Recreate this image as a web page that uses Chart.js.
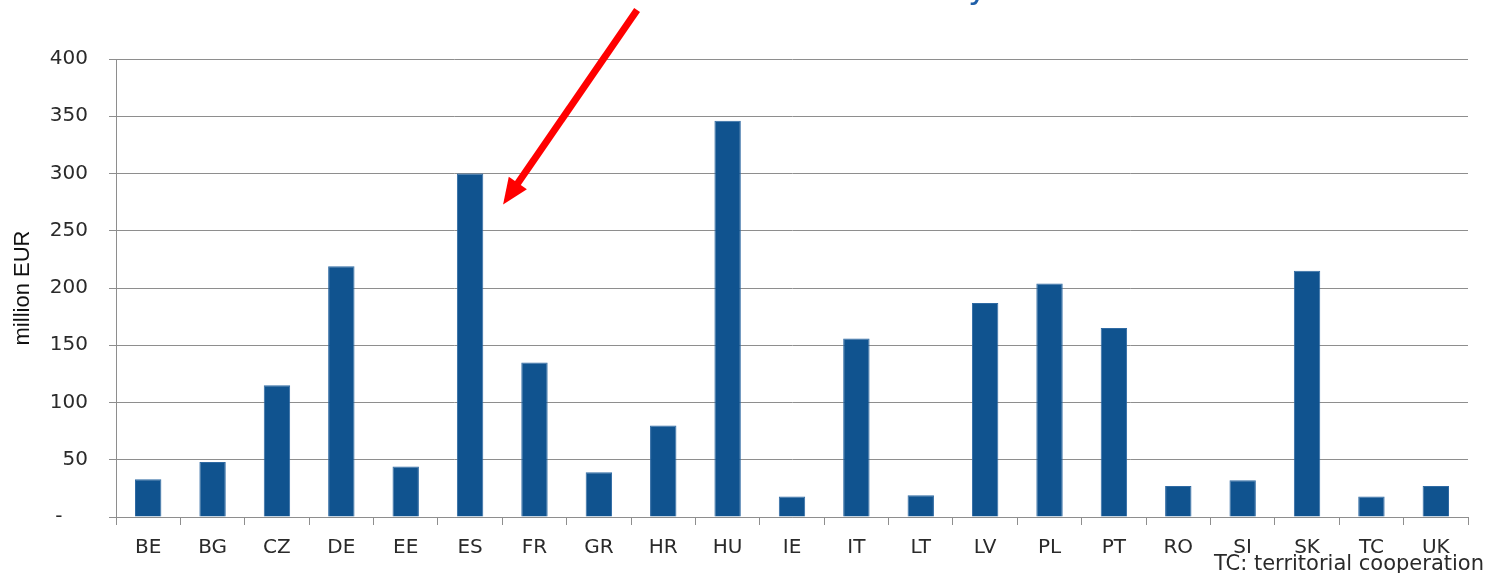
<!DOCTYPE html>
<html>
<head>
<meta charset="utf-8">
<script src="https://cdn.jsdelivr.net/npm/chart.js@4"></script>
<style>
  html, body { margin: 0; padding: 0; background: #fff; }
  #wrap { width: 1491px; height: 573px; position: relative; }
</style>
</head>
<body>
<div id="wrap"><canvas id="output" width="1491" height="573"></canvas></div>
<script>
// countries (TC = territorial cooperation)
const countries = ['BE', 'BG', 'CZ', 'DE', 'EE', 'ES', 'FR', 'GR', 'HR', 'HU', 'IE',
  'IT', 'LT', 'LV', 'PL', 'PT', 'RO', 'SI', 'SK', 'TC', 'UK']
// million EUR
const amounts = [33, 48, 115, 219, 44, 300, 135, 39, 80, 346, 18,
  156, 19, 187, 204, 165, 27, 32, 215, 18, 27]
const yTicks = [0, 50, 100, 150, 200, 250, 300, 350, 400]
const highlight = 'ES'
const footnote = 'TC: territorial cooperation'

const textColor = '#2a2a2a'
const gridColor = '#8e8e8e'
const barColor = '#10538f'

// red arrow pointing at the highlighted bar + footnote
const extras = {
  id: 'extras',
  afterDraw (chart) {
    const ctx = chart.ctx
    const x = chart.scales.x
    const y = chart.scales.y
    const i = countries.indexOf(highlight)
    const tipX = x.getPixelForValue(i) + 33
    const tipY = y.getPixelForValue(amounts[i]) + 31
    const tailX = tipX + 134
    const tailY = 10
    const ang = Math.atan2(tipY - tailY, tipX - tailX)
    ctx.save()
    ctx.strokeStyle = '#ff0000'
    ctx.fillStyle = '#ff0000'
    ctx.lineWidth = 7
    ctx.beginPath()
    ctx.moveTo(tailX, tailY)
    ctx.lineTo(tipX - 18 * Math.cos(ang), tipY - 18 * Math.sin(ang))
    ctx.stroke()
    ctx.beginPath()
    ctx.moveTo(tipX, tipY)
    ctx.lineTo(tipX - 26 * Math.cos(ang) + 11 * Math.sin(ang), tipY - 26 * Math.sin(ang) - 11 * Math.cos(ang))
    ctx.lineTo(tipX - 26 * Math.cos(ang) - 11 * Math.sin(ang), tipY - 26 * Math.sin(ang) + 11 * Math.cos(ang))
    ctx.closePath()
    ctx.fill()
    // bit of the cut-off title
    ctx.fillStyle = '#1f5fa8'
    ctx.font = '34px "DejaVu Sans"'
    ctx.textAlign = 'left'
    ctx.textBaseline = 'alphabetic'
    ctx.fillText('y', 968, -2)
    // footnote
    ctx.fillStyle = textColor
    ctx.font = '21px "DejaVu Sans"'
    ctx.textAlign = 'right'
    ctx.fillText(footnote, 1484, 570)
    ctx.restore()
  }
}

var ctx = document.getElementById('output').getContext('2d')
var myChart = new Chart(ctx, {
  type: 'bar',
  data: {
    labels: countries,
    datasets: [{
      label: 'million EUR',
      data: amounts,
      backgroundColor: barColor,
      borderColor: '#2f6aa3',
      borderWidth: 1,
      barPercentage: 0.41,
      categoryPercentage: 1
    }]
  },
  options: {
    responsive: false,
    animation: false,
    layout: { padding: { left: 10, right: 23, top: 59, bottom: 0 } },
    plugins: {
      legend: { display: false },
      tooltip: { enabled: false }
    },
    scales: {
      x: {
        offset: true,
        grid: { display: true, drawOnChartArea: false, offset: true, tickLength: 8, color: gridColor },
        border: { color: gridColor },
        ticks: { color: textColor, font: { family: 'DejaVu Sans', size: 20 }, padding: 11, maxRotation: 0 },
        afterFit (scale) { scale.height = 56 }
      },
      y: {
        min: 0,
        max: 400,
        afterBuildTicks (scale) { scale.ticks = yTicks.map(v => ({ value: v })) },
        grid: { color: gridColor, tickLength: 7 },
        border: { color: gridColor },
        ticks: {
          color: textColor,
          font: { family: 'DejaVu Sans', size: 20 },
          padding: 21,
          callback: function (v) { return v === 0 ? '-    ' : v }
        },
        title: {
          display: true,
          text: 'million EUR',
          color: '#111111',
          font: { family: 'Liberation Sans', size: 22 },
          padding: { top: 0, bottom: 4 }
        },
        afterFit (scale) { scale.width = 106 }
      }
    }
  },
  plugins: [extras]
})
</script>
</body>
</html>
